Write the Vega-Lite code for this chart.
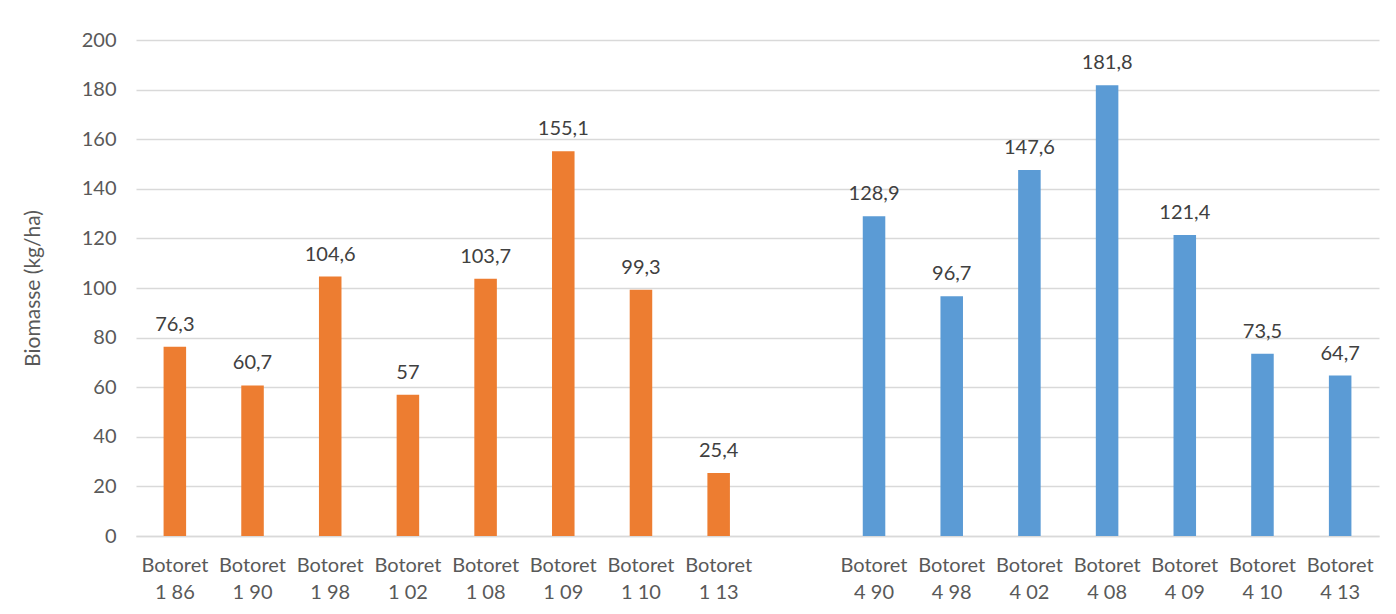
{
  "$schema": "https://vega.github.io/schema/vega-lite/v6.json",
  "width": 1243,
  "height": 496,
  "autosize": {"type": "none"},
  "padding": {"left": 136, "top": 40, "right": 17, "bottom": 78},
  "background": "white",
  "config": {
    "view": {"stroke": null},
    "font": "Lato",
    "locale": {"number": {"decimal": ",", "thousands": ".", "grouping": [3], "currency": ["", ""]}}
  },
  "data": {
    "values": [
      {"site": "Botoret 1 86", "group": "1", "biomass": 76.3},
      {"site": "Botoret 1 90", "group": "1", "biomass": 60.7},
      {"site": "Botoret 1 98", "group": "1", "biomass": 104.6},
      {"site": "Botoret 1 02", "group": "1", "biomass": 57},
      {"site": "Botoret 1 08", "group": "1", "biomass": 103.7},
      {"site": "Botoret 1 09", "group": "1", "biomass": 155.1},
      {"site": "Botoret 1 10", "group": "1", "biomass": 99.3},
      {"site": "Botoret 1 13", "group": "1", "biomass": 25.4},
      {"site": "Botoret 4 90", "group": "4", "biomass": 128.9},
      {"site": "Botoret 4 98", "group": "4", "biomass": 96.7},
      {"site": "Botoret 4 02", "group": "4", "biomass": 147.6},
      {"site": "Botoret 4 08", "group": "4", "biomass": 181.8},
      {"site": "Botoret 4 09", "group": "4", "biomass": 121.4},
      {"site": "Botoret 4 10", "group": "4", "biomass": 73.5},
      {"site": "Botoret 4 13", "group": "4", "biomass": 64.7}
    ]
  },
  "encoding": {
    "x": {
      "field": "site",
      "type": "nominal",
      "scale": {
        "domain": ["Botoret 1 86", "Botoret 1 90", "Botoret 1 98", "Botoret 1 02", "Botoret 1 08", "Botoret 1 09", "Botoret 1 10", "Botoret 1 13", "gap", "Botoret 4 90", "Botoret 4 98", "Botoret 4 02", "Botoret 4 08", "Botoret 4 09", "Botoret 4 10", "Botoret 4 13"],
        "paddingInner": 0.71,
        "paddingOuter": 0.355
      },
      "axis": {
        "title": null,
        "labelAngle": 0,
        "labelExpr": "datum.value == 'gap' ? '' : ['Botoret', substring(datum.value, 8)]",
        "labelFontSize": 20,
        "labelColor": "#595959",
        "labelLineHeight": 27,
        "labelPadding": 29,
        "ticks": false,
        "domainColor": "#d9d9d9",
        "domainWidth": 1.5,
        "labelBaseline": "middle"
      }
    },
    "y": {
      "field": "biomass",
      "type": "quantitative",
      "scale": {"domain": [0, 200], "nice": false},
      "axis": {
        "title": "Biomasse (kg/ha)",
        "titleFontSize": 21,
        "titleFontWeight": "normal",
        "titleColor": "#595959",
        "titlePadding": 38,
        "values": [0, 20, 40, 60, 80, 100, 120, 140, 160, 180, 200],
        "labelFontSize": 20,
        "labelColor": "#595959",
        "labelPadding": 20,
        "ticks": false,
        "domain": false,
        "gridColor": "#d9d9d9",
        "gridWidth": 1.3
      }
    }
  },
  "layer": [
    {
      "mark": {"type": "bar"},
      "encoding": {
        "color": {
          "field": "group",
          "type": "nominal",
          "scale": {"domain": ["1", "4"], "range": ["#ED7D31", "#5B9BD5"]},
          "legend": null
        }
      }
    },
    {
      "mark": {"type": "text", "baseline": "bottom", "dy": -12, "fontSize": 20, "color": "#404040"},
      "encoding": {
        "text": {"field": "biomass", "type": "quantitative", "format": ".1~f"}
      }
    }
  ]
}
